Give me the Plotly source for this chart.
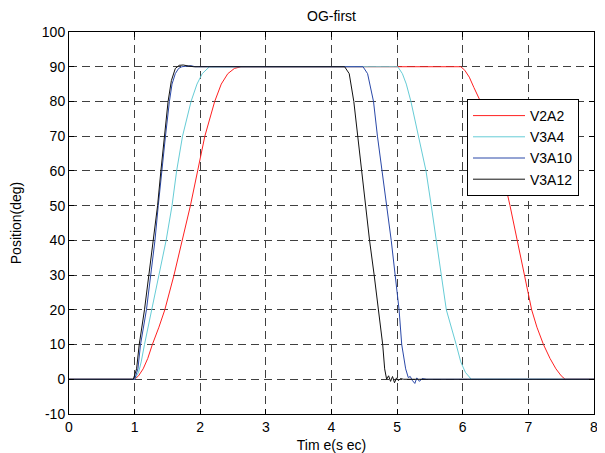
import plotly.graph_objects as go

# ---- data ----
t_v2a2 = [0, 1.0, 1.06, 1.13, 1.20, 1.27, 1.37, 1.46, 1.60, 1.73, 1.85, 1.96, 2.07, 2.22, 2.32, 2.42, 2.52, 2.62,
          5.97, 6.03, 6.10, 6.17, 6.27, 6.45, 6.60, 6.72, 6.83, 6.94, 7.05, 7.13, 7.23, 7.33, 7.42, 7.50, 7.56, 8.0]
y_v2a2 = [0, 0, 1, 3, 6, 10, 15, 20, 30, 40, 50, 60, 70, 80, 85, 88, 89.5, 90,
          90, 89, 87, 84, 80, 70, 60, 50, 40, 30, 20, 15, 10, 6, 3, 1, 0, 0]

t_v3a4 = [0, 1.0, 1.06, 1.10, 1.15, 1.26, 1.38, 1.48, 1.57, 1.64, 1.73, 1.86, 1.95, 2.03, 2.14,
          5.01, 5.08, 5.14, 5.21, 5.33, 5.44, 5.52, 5.60, 5.67, 5.75, 5.90, 5.97, 6.04, 6.13, 8.0]
y_v3a4 = [0, 0, 2, 5, 10, 20, 30, 40, 50, 60, 70, 80, 85, 88, 90,
          90, 88, 85, 80, 70, 60, 50, 40, 30, 20, 10, 5, 2, 0, 0]

t_v3a10 = [0, 1.0, 1.05, 1.09, 1.18, 1.25, 1.31, 1.36, 1.41, 1.47, 1.53, 1.57, 1.62, 1.67, 1.72, 1.80, 1.86, 1.92,
           4.48, 4.55, 4.60, 4.64, 4.70, 4.75, 4.84, 4.91, 4.97, 5.03, 5.07, 5.13, 5.17,
           5.20, 5.23, 5.27, 5.30, 5.34, 5.38, 5.45, 8.0]
y_v3a10 = [0, 0, 3, 10, 20, 30, 40, 50, 60, 70, 80, 85, 88, 89.5, 90, 90.2, 90.3, 90,
           90, 88, 84, 80, 70, 63, 50, 40, 30, 20, 10, 3, 0.5,
           0.8, -0.3, -1.2, 0.4, -0.6, 0.2, 0, 0]

t_v3a12 = [0, 0.98, 1.03, 1.07, 1.15, 1.22, 1.29, 1.35, 1.40, 1.46, 1.51, 1.56, 1.62, 1.68, 1.74, 1.82, 1.90,
           4.20, 4.27, 4.34, 4.40, 4.44, 4.52, 4.58, 4.65, 4.72, 4.78, 4.81, 4.84,
           4.87, 4.90, 4.93, 4.96, 4.99, 5.02, 5.05, 5.10, 8.0]
y_v3a12 = [0, 0, 3, 10, 20, 30, 40, 50, 60, 70, 80, 86, 89.5, 90.4, 90.5, 90.2, 90,
           90, 88, 80, 70, 63, 50, 40, 30, 20, 10, 3, 0,
           1, -0.6, 0.8, -1, 0.4, -0.4, 0.2, 0, 0]

series = [
    ("V2A2", t_v2a2, y_v2a2, "#ff2020"),
    ("V3A4", t_v3a4, y_v3a4, "#66ccd6"),
    ("V3A10", t_v3a10, y_v3a10, "#2a48a8"),
    ("V3A12", t_v3a12, y_v3a12, "#111111"),
]

x_ticks = [0, 1, 2, 3, 4, 5, 6, 7, 8]
y_ticks = [-10, 0, 10, 20, 30, 40, 50, 60, 70, 80, 90, 100]

FONT = "Liberation Sans, Arial, Helvetica, sans-serif"
FS = 14

# the page places the figure 8px in from the top-left corner (body margin),
# so the figure is sized to fill the rest of the 605x453 window
W, H = 597, 445

fig = go.Figure()
for name, t, y, c in series:
    fig.add_trace(go.Scatter(x=t, y=y, mode="lines", name=name,
                             line=dict(color=c, width=1)))

axis_common = dict(
    showline=True, linecolor="black", linewidth=1, mirror="ticks",
    ticks="inside", ticklen=5, tickcolor="black",
    showgrid=True, gridcolor="#404040", gridwidth=1, griddash="8px,5px",
    zeroline=False, tickfont=dict(family=FONT, size=FS, color="black"),
    automargin=False,
)

fig.update_layout(
    width=W, height=H,
    margin=dict(l=61, r=11, t=24, b=39),
    paper_bgcolor="white", plot_bgcolor="white",
    font=dict(family=FONT, size=FS, color="black"),
    title=dict(text="OG-first", x=(61 + 586) / 2 / W, xanchor="center",
               y=1 - 3 / H, yanchor="top", pad=dict(t=0, b=0),
               font=dict(family=FONT, size=FS), automargin=False),
    xaxis=dict(range=[0, 8], tickvals=x_ticks, ticktext=[str(v) for v in x_ticks],
               title=dict(text="Tim e(s ec)", standoff=6, font=dict(family=FONT, size=FS)),
               **axis_common),
    yaxis=dict(range=[-10, 100], tickvals=y_ticks, ticktext=[str(v) for v in y_ticks],
               title=dict(text="Position(deg)", standoff=26, font=dict(family=FONT, size=FS)),
               **axis_common),
    legend=dict(x=(467 - 69) / 525, y=(414 - 99) / 382, xanchor="left", yanchor="top",
                bgcolor="white", bordercolor="black", borderwidth=1,
                font=dict(family=FONT, size=FS, color="black"),
                tracegroupgap=0, itemwidth=52),
    showlegend=True,
)

fig.write_html("out.html")
